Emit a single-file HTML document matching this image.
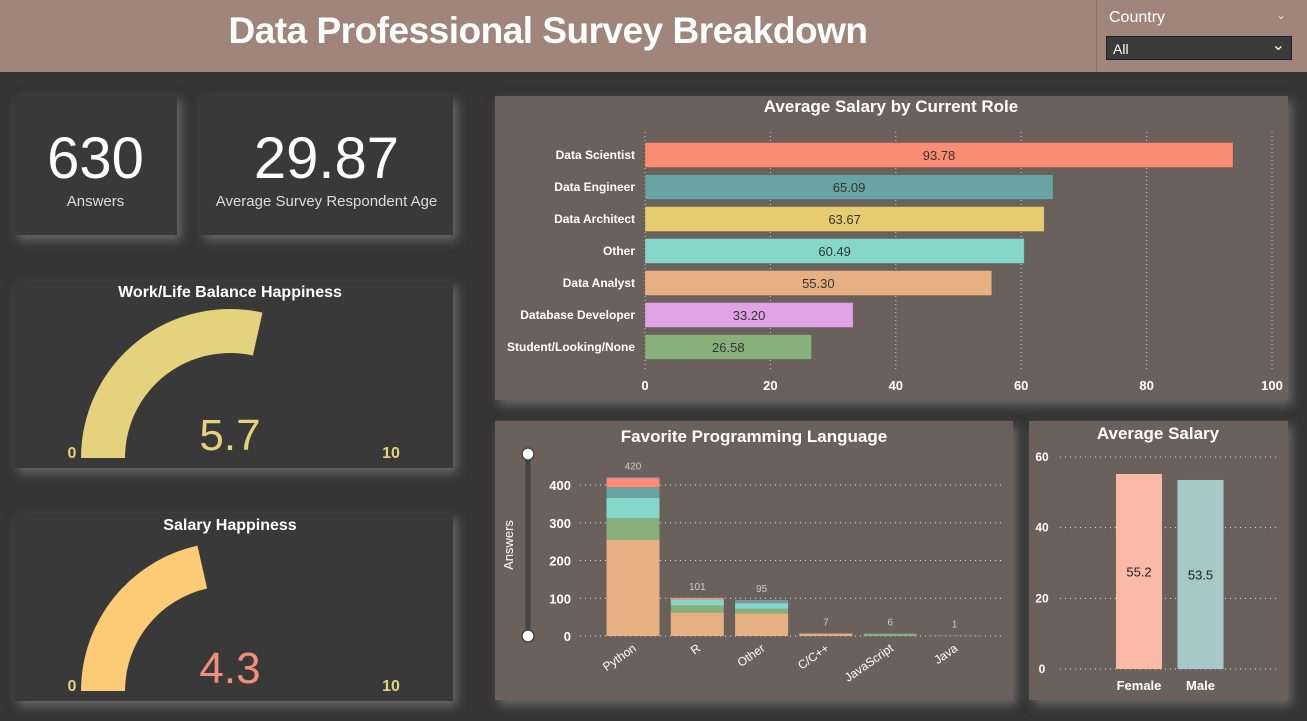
<!DOCTYPE html>
<html><head><meta charset="utf-8"><style>
body{margin:0;width:1307px;height:721px;background:#363535;font-family:"Liberation Sans",sans-serif;overflow:hidden;position:relative}
.p{position:absolute;box-shadow:4px 5px 10px rgba(150,150,150,.55)}
.dk{background:#3a3939}
.br{background:#6b615c}
svg text{font-family:"Liberation Sans",sans-serif}
</style></head><body>
<div style="position:absolute;left:0;top:0;width:1307px;height:72px;background:#a0857a"></div>
<div style="position:absolute;left:150px;top:10px;width:796px;text-align:center;color:#fff;font-weight:bold;font-size:37px;letter-spacing:-0.5px">Data Professional Survey Breakdown</div>
<div style="position:absolute;left:1096px;top:0;width:1px;height:72px;background:#8b7268"></div>
<div style="position:absolute;left:1109px;top:9px;color:#fff;font-size:16px">Country</div>
<div style="position:absolute;left:1276px;top:8px;color:#e8ddd8;font-size:12px">&#8964;</div>
<div style="position:absolute;left:1106px;top:36px;width:186px;height:24px;background:#3a3a3a;border:1px solid #222;color:#fff;font-size:14px;line-height:24px;padding-left:6px;box-sizing:border-box">All<span style="position:absolute;right:6px;top:-3px;font-size:16px">&#8964;</span></div>

<div class="p dk" style="left:14px;top:95px;width:163px;height:140px;color:#fff;text-align:center">
<div style="font-size:58px;margin-top:34px;line-height:60px">630</div>
<div style="font-size:15px;color:#ddd;margin-top:4px">Answers</div></div>
<div class="p dk" style="left:200px;top:95px;width:253px;height:140px;color:#fff;text-align:center">
<div style="font-size:58px;margin-top:34px;line-height:60px">29.87</div>
<div style="font-size:15px;color:#ddd;margin-top:4px">Average Survey Respondent Age</div></div>

<div class="p dk" style="left:14px;top:281px;width:439px;height:187px"></div>
<div class="p dk" style="left:14px;top:513px;width:439px;height:188px"></div>
<div class="p br" style="left:495px;top:96px;width:793px;height:304px"></div>
<div class="p br" style="left:495px;top:421px;width:518px;height:279px"></div>
<div class="p br" style="left:1029px;top:421px;width:259px;height:279px"></div>

<svg id="s" width="1307" height="721" style="position:absolute;left:0;top:0"></svg>
<script>
const gaugeTitles=["Work/Life Balance Happiness","Salary Happiness"];
const gaugeValues=[5.7,4.3];
const gaugeMax=10;
const roles=["Data Scientist","Data Engineer","Data Architect","Other","Data Analyst","Database Developer","Student/Looking/None"];
const roleSalary=[93.78,65.09,63.67,60.49,55.30,33.20,26.58];
const roleTicks=[0,20,40,60,80,100];
const langs=["Python","R","Other","C/C++","JavaScript","Java"];
const langTotals=[420,101,95,7,6,1];
const segAnalyst=[255,62,60,5,0,0];
const segStudent=[57,19,12,0,6,1];
const segOther=[54,16,15,1,0,0];
const segEngineer=[28,0,6,0,0,0];
const segScientist=[22,4,0,1,0,0];
const langTicks=[0,100,200,300,400];
const genders=["Female","Male"];
const genderSalary=[55.2,53.5];
const genderTicks=[0,20,40,60];

const S=document.getElementById('s');const NS="http://www.w3.org/2000/svg";
function el(t,a,txt){const e=document.createElementNS(NS,t);for(const k in a)e.setAttribute(k,a[k]);if(txt!==undefined)e.textContent=txt;S.appendChild(e);return e;}

// gauges
const gy=[458,691],gTitleY=[297,530],gcol=["#e5d27d","#fbcb75"],vcol=["#e5d27d","#f28f78"];
gaugeValues.forEach((v,i)=>{
 const cx=230,cy=gy[i],R=149,r=105;
 const t=el('text',{x:230,y:gTitleY[i],'text-anchor':'middle',fill:'#fff','font-size':16,'font-weight':'bold'},gaugeTitles[i]);
 
 const a=Math.PI*(v/gaugeMax);
 const ox=cx-R*Math.cos(a),oy=cy-R*Math.sin(a),ix=cx-r*Math.cos(a),iy=cy-r*Math.sin(a);
 const p=el('path',{d:`M${cx-R},${cy} A${R},${R} 0 0 1 ${ox},${oy} L${ix},${iy} A${r},${r} 0 0 0 ${cx-r},${cy} Z`,fill:gcol[i]});
 
 const vt=el('text',{x:230,y:cy-8,'text-anchor':'middle',fill:vcol[i],'font-size':44},v.toFixed(1));
 
 const mn=el('text',{x:72,y:cy,'text-anchor':'middle',fill:'#e5d27d','font-size':16,'font-weight':'bold'},'0');
 
 const mx=el('text',{x:391,y:cy,'text-anchor':'middle',fill:'#e5d27d','font-size':16,'font-weight':'bold'},String(gaugeMax));
 
});

// role bar chart
let t=el('text',{x:891,y:112,'text-anchor':'middle',fill:'#fff','font-size':17,'font-weight':'bold'},'Average Salary by Current Role');

const rx=v=>645+v*6.27, ry=i=>155+i*32;
const rcol=["#fa8c74","#6aa3a3","#e6cc6e","#85d8c9","#e7b083","#dfa3e6","#89b07a"];
roleTicks.forEach(v=>{
 const g=el('line',{x1:rx(v),x2:rx(v),y1:132,y2:372,stroke:'#ccc','stroke-dasharray':'1 3','stroke-width':1});
 
 const l=el('text',{x:rx(v),y:390,'text-anchor':'middle',fill:'#fff','font-size':13,'font-weight':'bold'},v);
 
});
roles.forEach((n,i)=>{
 const b=el('rect',{x:rx(0),y:ry(i)-12.5,width:rx(roleSalary[i])-rx(0),height:25,fill:rcol[i],stroke:'rgba(0,0,0,.15)'});
 
 const l=el('text',{x:635,y:ry(i)+4,'text-anchor':'end',fill:'#fff','font-size':12,'font-weight':'bold'},n);
 
 const v=el('text',{x:(rx(0)+rx(roleSalary[i]))/2,y:ry(i)+5,'text-anchor':'middle',fill:'#333','font-size':13},roleSalary[i].toFixed(2));
 
});

// language stacked chart
t=el('text',{x:754,y:442,'text-anchor':'middle',fill:'#fff','font-size':17,'font-weight':'bold'},'Favorite Programming Language');

const ly=v=>636-v*0.3775, lx=i=>633+i*64.3;
langTicks.forEach(v=>{
 const g=el('line',{x1:580,x2:1005,y1:ly(v),y2:ly(v),stroke:'#ddd','stroke-dasharray':'1 4'});
 
 const l=el('text',{x:571,y:ly(v)+5,'text-anchor':'end',fill:'#fff','font-size':13,'font-weight':'bold'},v);
 
});
t=el('text',{x:0,y:0,transform:'translate(513,545) rotate(-90)','text-anchor':'middle',fill:'#fff','font-size':13},'Answers');

t=el('line',{x1:528,x2:528,y1:454,y2:636,stroke:'#444','stroke-width':5});

[454,636].forEach(y=>{const c=el('circle',{cx:528,cy:y,r:6,fill:'#fff',stroke:'#444','stroke-width':1.5});
 });
const segs=[segAnalyst,segStudent,segOther,segEngineer,segScientist];
const scol=["#e7b083","#89b07a","#85d8c9","#6aa3a3","#fa8c74"];
langs.forEach((n,i)=>{
 let base=0;
 segs.forEach((s,k)=>{if(!s[i])return;
  const r=el('rect',{x:lx(i)-26.5,y:ly(base+s[i]),width:53,height:ly(base)-ly(base+s[i]),fill:scol[k]});
  
  base+=s[i];});
 if(langTotals[i]>base){const r=el('rect',{x:lx(i)-26.5,y:ly(langTotals[i]),width:53,height:ly(base)-ly(langTotals[i]),fill:'#c98aa8'});
  }
 const v=el('text',{x:lx(i),y:ly(langTotals[i])-8,'text-anchor':'middle',fill:'#ccc','font-size':10},langTotals[i]);
 
 const l=el('text',{x:0,y:0,transform:`translate(${lx(i)+4},${650}) rotate(-35)`,'text-anchor':'end',fill:'#fff','font-size':12},n);
 
});

// gender chart
t=el('text',{x:1158,y:439,'text-anchor':'middle',fill:'#fff','font-size':17,'font-weight':'bold'},'Average Salary');

const gyv=v=>669-v*3.533, gxv=i=>1139+i*61.5;
genderTicks.forEach(v=>{
 const g=el('line',{x1:1060,x2:1278,y1:gyv(v),y2:gyv(v),stroke:'#ddd','stroke-dasharray':'1 4'});
 
 const l=el('text',{x:1042,y:gyv(v)+4,'text-anchor':'middle',fill:'#fff','font-size':12,'font-weight':'bold'},v);
 
});
const gc=["#fbb9a8","#a7c8c8"];
genders.forEach((n,i)=>{
 const b=el('rect',{x:gxv(i)-23,y:gyv(genderSalary[i]),width:46,height:gyv(0)-gyv(genderSalary[i]),fill:gc[i]});
 
 const v=el('text',{x:gxv(i),y:(gyv(0)+gyv(genderSalary[i]))/2+5,'text-anchor':'middle',fill:'#222','font-size':13},genderSalary[i].toFixed(1));
 
 const l=el('text',{x:gxv(i),y:690,'text-anchor':'middle',fill:'#fff','font-size':13,'font-weight':'bold'},n);
 
});
</script>
</body></html>
